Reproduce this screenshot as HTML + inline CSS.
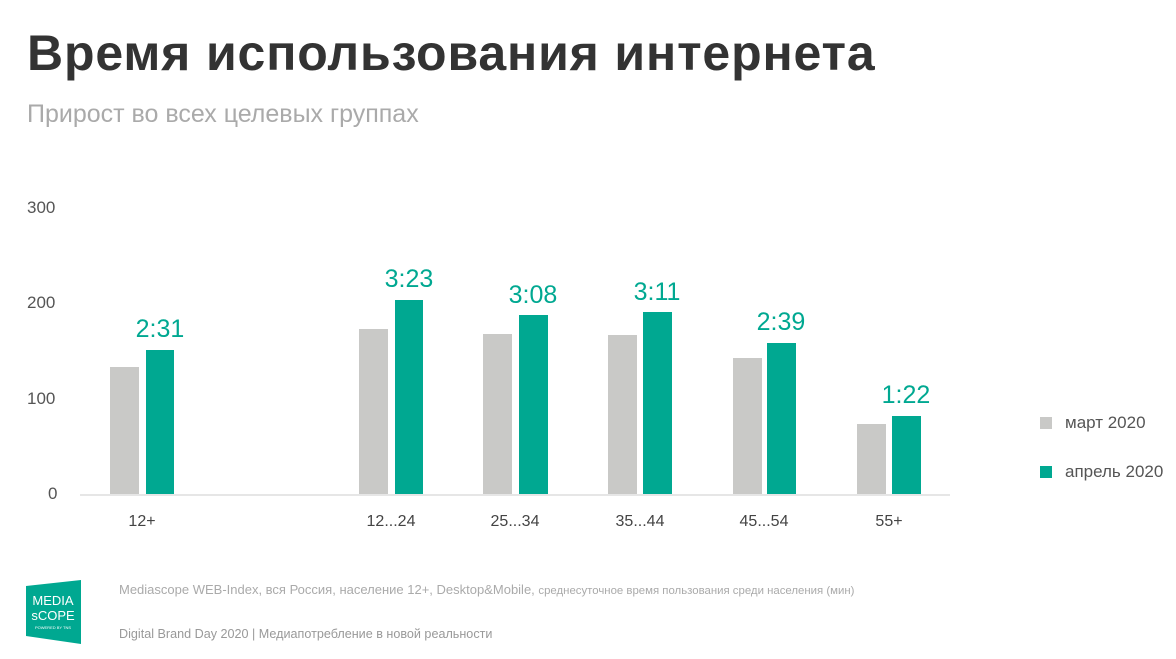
<!DOCTYPE html>
<html><head><meta charset="utf-8"><style>
body{margin:0;width:1176px;height:659px;background:#fff;position:relative;overflow:hidden;font-family:"Liberation Sans","DejaVu Sans",sans-serif}
.a{position:absolute;white-space:nowrap}
.g{position:absolute;background:#c9c9c7}
.t{position:absolute;background:#00a891}
.v{position:absolute;color:#00a891;font-size:25px;width:80px;text-align:center}
.y{position:absolute;color:#555;font-size:17px}
.x{position:absolute;color:#444;font-size:16px;width:100px;text-align:center}
</style></head><body>
<div class="a" style="left:27px;top:24px;font-size:50px;font-weight:bold;color:#333;letter-spacing:0.85px">Время использования интернета</div>
<div class="a" style="left:27px;top:100px;font-size:25px;color:#aaa">Прирост во всех целевых группах</div>
<div class="y" style="left:27px;top:198px">300</div>
<div class="y" style="left:27px;top:293px">200</div>
<div class="y" style="left:27px;top:389px">100</div>
<div class="y" style="left:48px;top:484px">0</div>
<div style="position:absolute;left:80px;top:494px;width:870px;height:2px;background:#e6e6e6"></div>
<div class="g" style="left:110px;top:367px;width:29px;height:127px"></div>
<div class="t" style="left:146px;top:350px;width:28px;height:144px"></div>
<div class="g" style="left:359px;top:329px;width:29px;height:165px"></div>
<div class="t" style="left:395px;top:300px;width:28px;height:194px"></div>
<div class="g" style="left:483px;top:334px;width:29px;height:160px"></div>
<div class="t" style="left:519px;top:315px;width:29px;height:179px"></div>
<div class="g" style="left:608px;top:335px;width:29px;height:159px"></div>
<div class="t" style="left:643px;top:312px;width:29px;height:182px"></div>
<div class="g" style="left:733px;top:358px;width:29px;height:136px"></div>
<div class="t" style="left:767px;top:343px;width:29px;height:151px"></div>
<div class="g" style="left:857px;top:424px;width:29px;height:70px"></div>
<div class="t" style="left:892px;top:416px;width:29px;height:78px"></div>
<div class="v" style="left:120px;top:315px">2:31</div>
<div class="v" style="left:369px;top:265px">3:23</div>
<div class="v" style="left:493px;top:281px">3:08</div>
<div class="v" style="left:617px;top:278px">3:11</div>
<div class="v" style="left:741px;top:308px">2:39</div>
<div class="v" style="left:866px;top:381px">1:22</div>
<div class="x" style="left:92px;top:513px">12+</div>
<div class="x" style="left:341px;top:513px">12...24</div>
<div class="x" style="left:465px;top:513px">25...34</div>
<div class="x" style="left:590px;top:513px">35...44</div>
<div class="x" style="left:714px;top:513px">45...54</div>
<div class="x" style="left:839px;top:513px">55+</div>
<div class="g" style="left:1040px;top:417px;width:12px;height:12px"></div>
<div class="a" style="left:1065px;top:413px;font-size:17px;color:#555">март 2020</div>
<div class="t" style="left:1040px;top:466px;width:12px;height:12px"></div>
<div class="a" style="left:1065px;top:462px;font-size:17px;color:#555">апрель 2020</div>
<svg style="position:absolute;left:26px;top:580px" width="56" height="64"><polygon points="0,6 55,0 55,64 0,56" fill="#00a891"/>
<text x="27" y="25" font-size="13" fill="#fff" text-anchor="middle" font-family="Liberation Sans Narrow,Liberation Sans,sans-serif">MEDIA</text>
<text x="27" y="40" font-size="13" fill="#fff" text-anchor="middle" font-family="Liberation Sans Narrow,Liberation Sans,sans-serif">sCOPE</text>
<text x="27" y="49" font-size="4" fill="#fff" text-anchor="middle">POWERED BY TNS</text></svg>
<div class="a" style="left:119px;top:582px;font-size:13px;color:#aaa">Mediascope WEB-Index, вся Россия, население 12+, Desktop&amp;Mobile, <span style="font-size:11.4px">среднесуточное время пользования среди населения (мин)</span></div>
<div class="a" style="left:119px;top:627px;font-size:12.6px;color:#999">Digital Brand Day 2020 | Медиапотребление в новой реальности</div>
</body></html>
